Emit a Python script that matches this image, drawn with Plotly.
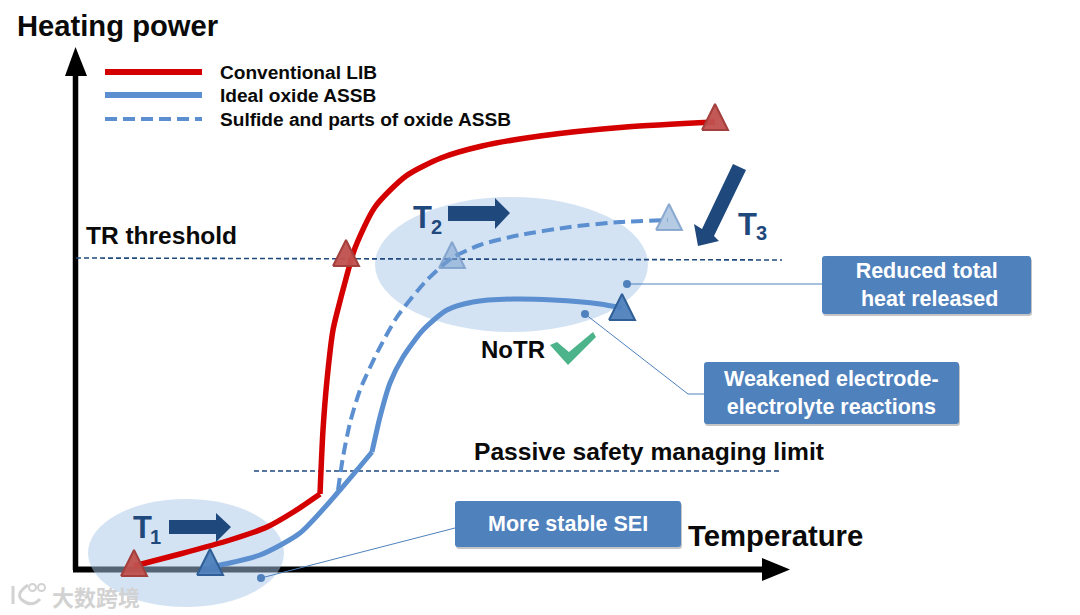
import plotly.graph_objects as go

# Curves (x = temperature position, y = heating power position)
lib_low_x = [134,180,230,267,295,320]
lib_low_y = [566,554,540,527,511,494]
lib_high_x = [320,323,327,333,339,344,355,375,406,441,482,540,626,715]
lib_high_y = [494,430,380,330,305,286,248,207,176,158,146,136,127,122]
ideal_low_x = [210,225,260,300,340,372]
ideal_low_y = [567,564,555,533,490,452]
ideal_high_x = [372,380,390,403,423,447,473,513,553,600,622]
ideal_high_y = [452,417,383,357,330,310,302,299,300,304,308]
sulfide_x = [338,343,350,360,377,397,427,452,480,520,570,620,668]
sulfide_y = [490,457,423,390,353,317,280,258,245,235,227,222,220]
legend_names = ["Conventional LIB", "Ideal oxide ASSB", "Sulfide and parts of oxide ASSB"]
legend_rows_y = [72, 95, 119]
legend_sample_x = [105, 202]
legend_text_x = 220

tr_x = [76, 782]; tr_y = [258, 260]
passive_x = [254, 782]; passive_y = [471, 471]

# Triangular state markers: x, y of centre
red_tri = [(134,565),(346,255),(715,119)]
blue_tri = [(210,564),(622,309)]
light_tri = [(452,257),(669,219)]

# Callouts: dot, then leader line end
leader_a_x = [261, 455]; leader_a_y = [578, 528]
leader_b_x = [585, 688, 704]; leader_b_y = [314, 394, 394]
leader_c_x = [627, 822]; leader_c_y = [284, 284]

BOXES = [(455,501,681,547), (704,362,959,424), (822,256,1031,314)]

RED = "#d40000"; BLUE = "#5b8fd0"; NAVY = "#1f497d"; BOX = "#4f81bd"
FONT = "Liberation Sans"

fig = go.Figure()

def curve(x, y, color, w, name=None, dash=None, smooth=False):
    line = dict(color=color, width=w, dash=dash)
    if smooth:
        line.update(shape="spline", smoothing=0.7)
    fig.add_trace(go.Scatter(x=x, y=y, mode="lines", name=name, showlegend=False, line=line, hoverinfo="skip"))

def tri(pts, fill, edge, hw=13, up=15, dn=11):
    for cx, cy in pts:
        fig.add_trace(go.Scatter(x=[cx-hw, cx+hw, cx, cx-hw], y=[cy+dn, cy+dn, cy-up, cy+dn],
                                 mode="lines", fill="toself", fillcolor=fill, showlegend=False,
                                 line=dict(color=edge, width=2), hoverinfo="skip"))

curve(tr_x, tr_y, NAVY, 1.6, dash="5px,3px")
curve(passive_x, passive_y, NAVY, 1.6, dash="5px,3px")
curve(lib_low_x, lib_low_y, RED, 5.5, legend_names[0], smooth=True)
curve(lib_high_x, lib_high_y, RED, 5.5, legend_names[0], smooth=True)
curve(ideal_low_x, ideal_low_y, BLUE, 5, legend_names[1], smooth=True)
curve(ideal_high_x, ideal_high_y, BLUE, 5, legend_names[1], smooth=True)
curve(sulfide_x, sulfide_y, BLUE, 4, legend_names[2], dash="12px,6px", smooth=True)
curve(legend_sample_x, [legend_rows_y[0]]*2, RED, 6, legend_names[0])
curve(legend_sample_x, [legend_rows_y[1]]*2, BLUE, 6, legend_names[1])
curve(legend_sample_x, [legend_rows_y[2]]*2, BLUE, 4, legend_names[2], dash="12px,6px")
tri(red_tri, "rgba(192,80,77,0.95)", "#a33f3c")
tri(blue_tri, "rgba(79,129,189,0.95)", "#2f5f96")
tri(light_tri, "rgba(120,160,205,0.55)", "rgba(120,155,200,0.8)")
curve(leader_a_x, leader_a_y, BOX, 1)
curve(leader_b_x, leader_b_y, BOX, 1)
curve(leader_c_x, leader_c_y, BOX, 1)
fig.add_trace(go.Scatter(x=[leader_a_x[0], leader_b_x[0], leader_c_x[0]],
                         y=[leader_a_y[0], leader_b_y[0], leader_c_y[0]],
                         mode="markers", marker=dict(color=BOX, size=8), showlegend=False, hoverinfo="skip"))

def poly(pts):
    return "M" + " L".join(f"{x},{y}" for x, y in pts) + " Z"

def rrect(x0, y0, x1, y1, r=3):
    return (f"M{x0+r},{y0} L{x1-r},{y0} Q{x1},{y0} {x1},{y0+r} L{x1},{y1-r} Q{x1},{y1} {x1-r},{y1} "
            f"L{x0+r},{y1} Q{x0},{y1} {x0},{y1-r} L{x0},{y0+r} Q{x0},{y0} {x0+r},{y0} Z")

WM = "#d2d2d2"
shapes = [
    # axes
    dict(type="line", x0=75.5, y0=570, x1=75.5, y1=70, line=dict(color="black", width=5.5), layer="below"),
    dict(type="line", x0=73, y0=569.5, x1=765, y1=569.5, line=dict(color="black", width=6), layer="below"),
    dict(type="path", path=poly([(65,76),(87,76),(75.5,47)]), fillcolor="black", line_width=0, layer="below"),
    dict(type="path", path=poly([(762,558),(762,581),(790,569.5)]), fillcolor="black", line_width=0, layer="below"),
    # highlighted regions
    dict(type="circle", x0=88, y0=499, x1=284, y1=607, fillcolor="rgba(170,199,232,0.5)", line_width=0, layer="below"),
    dict(type="circle", x0=375, y0=197, x1=648, y1=332, fillcolor="rgba(170,199,232,0.5)", line_width=0, layer="below"),
    # block arrows
    dict(type="path", path=poly([(169,520),(216,520),(216,513),(231,527),(216,542),(216,534),(169,534)]),
         fillcolor=NAVY, line_width=0, layer="above"),
    dict(type="path", path=poly([(448,206),(495,206),(495,198),(510,213),(495,229),(495,221),(448,221)]),
         fillcolor=NAVY, line_width=0, layer="above"),
    dict(type="path", path=poly([(733,164),(746,170),(714,236),(719,241),(698,246),(694,224),(702,229)]),
         fillcolor=NAVY, line_width=0, layer="above"),
    # tick mark
    dict(type="path", path=poly([(550,345),(557,342),(569,352),(593,332),(596,337),(568,365)]),
         fillcolor="#4db38a", line_width=0, layer="above"),
    # watermark logo
    dict(type="path", path="M13,586 L13,604 M28,585 Q15,594 22,600 Q32,608 40,599", line=dict(color=WM, width=3), layer="above"),
    dict(type="circle", x0=29, y0=584, x1=36, y1=591, line=dict(color=WM, width=2), layer="above"),
    dict(type="circle", x0=38, y0=584, x1=45, y1=591, line=dict(color=WM, width=2), layer="above"),
]
for b in BOXES:
    shapes.append(dict(type="path", path=rrect(b[0]+1, b[1]+2, b[2]+1, b[3]+2),
                       fillcolor="rgba(90,90,90,0.35)", line_width=0, layer="above"))
    shapes.append(dict(type="path", path=rrect(*b), fillcolor=BOX, line_width=0, layer="above"))

def label(x, y, text, size, color="#0a0a0a", bold=True, family=FONT, anchor="left"):
    t = f"<b>{text}</b>" if bold else text
    return dict(x=x, y=y, text=t, showarrow=False, xanchor=anchor, yanchor="middle", align="center",
                font=dict(family=family, size=size, color=color))

annots = [
    label(15, 26, "Heating power", 29.2),
    label(84, 235, "TR threshold", 24.5),
    label(472, 451, "Passive safety managing limit", 24.6),
    label(686, 535, "Temperature", 29.3),
    label(479, 349, "NoTR", 24),
    label(131, 527, "T", 31, NAVY), label(148, 537, "1", 20, NAVY),
    label(411, 217, "T", 31, NAVY), label(429, 227, "2", 20, NAVY),
    label(736, 224, "T", 31, NAVY), label(754, 233, "3", 20, NAVY),
    label(568, 524, "More stable SEI", 21.5, "white", anchor="center"),
    label(831, 393, "Weakened electrode-<br>electrolyte reactions", 21.5, "white", anchor="center"),
    label(926, 285, "Reduced total<br> heat released", 21.5, "white", anchor="center"),
    label(50, 596, "大数跨境", 22, WM, family="Noto Sans CJK SC"),
]
for name, yy in zip(legend_names, legend_rows_y):
    annots.append(label(legend_text_x - 2, yy, name, 19.1))

fig.update_layout(
    width=1080, height=615, margin=dict(l=0, r=0, t=0, b=0),
    paper_bgcolor="white", plot_bgcolor="white", showlegend=False,
    xaxis=dict(range=[0, 1080], visible=False, fixedrange=True),
    yaxis=dict(range=[615, 0], visible=False, fixedrange=True),
    shapes=shapes, annotations=annots,
)
fig.write_html("out.html", config=dict(displayModeBar=False),
               post_script="document.body.style.margin='0';document.documentElement.style.overflow='hidden';")
